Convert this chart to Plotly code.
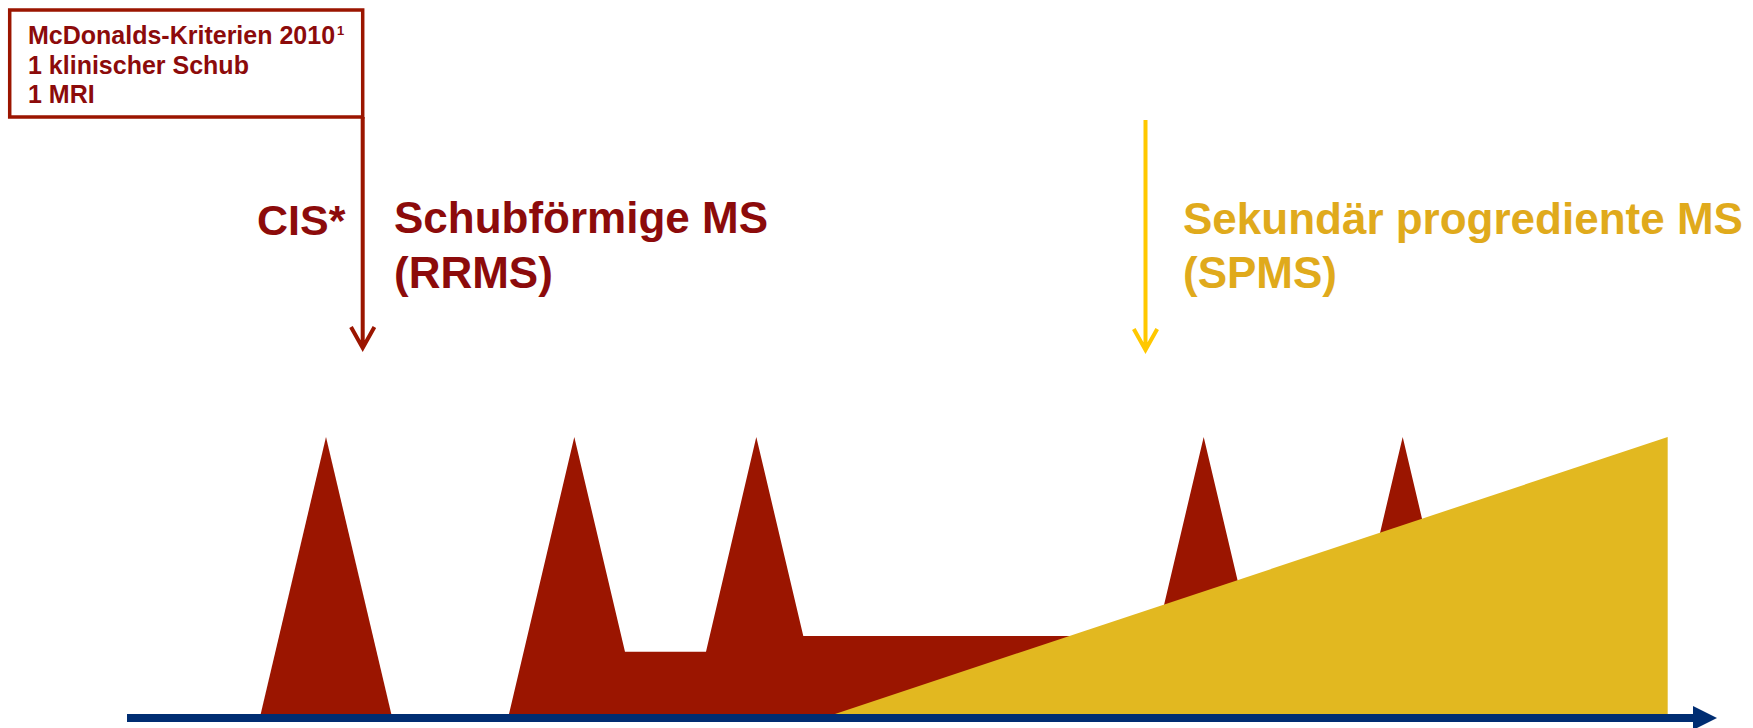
import plotly.graph_objects as go

W, H = 1753, 728
BASE_PX = 714          # pixel row of the time axis (top edge)
PX_PER_UNIT = 2.77     # pixels per unit of disability

# CIS: first clinical attack
cis_t = [260.7, 326.0, 391.3]
cis_level = [0, 100, 0]

# relapsing-remitting course with incomplete remission
rrms_t = [509.0, 574.3, 625.0, 706.0, 756.3, 803.3, 1156.7, 1203.7,
          1250.7, 1355.7, 1402.7, 1449.7, 1640.0, 1640.0]
rrms_level = [0, 100, 22.5, 22.5, 100, 28.2, 28.2, 100,
              28.2, 28.2, 100, 28.2, 28.2, 0]

# secondary progressive course
spms_t = [835.0, 1667.7, 1667.7]
spms_level = [0, 100, 0]

# time axis
axis_t = [127.0, 1693.0]
axis_tip_t = 1717.0

RED = "#9b1500"
RED_TEXT = "#8c0b0b"
GOLD = "#e2b820"
GOLD_TEXT = "#e0aa1c"
ARROW_GOLD = "#ffc800"
NAVY = "#002d72"
FONT = "Liberation Sans, Arial, Helvetica, sans-serif"


def py2y(py):
    return (BASE_PX - py) / PX_PER_UNIT


def px2p(px):
    return px / W


def py2p(py):
    return 1 - py / H


fig = go.Figure()

fig.add_trace(go.Scatter(x=cis_t, y=cis_level, fill="toself", fillcolor=RED,
                         mode="lines", line=dict(width=0, color=RED),
                         hoverinfo="skip", showlegend=False))
fig.add_trace(go.Scatter(x=rrms_t, y=rrms_level, fill="toself", fillcolor=RED,
                         mode="lines", line=dict(width=0, color=RED),
                         hoverinfo="skip", showlegend=False))
fig.add_trace(go.Scatter(x=spms_t, y=spms_level, fill="toself", fillcolor=GOLD,
                         mode="lines", line=dict(width=0, color=GOLD),
                         hoverinfo="skip", showlegend=False))

# time axis with arrow head
axis_y = py2y(718)
fig.add_trace(go.Scatter(x=axis_t, y=[axis_y, axis_y], mode="lines",
                         line=dict(width=8, color=NAVY),
                         hoverinfo="skip", showlegend=False))
head = 12 / PX_PER_UNIT
fig.add_trace(go.Scatter(x=[axis_t[1], axis_tip_t, axis_t[1], axis_t[1]],
                         y=[axis_y + head, axis_y, axis_y - head, axis_y + head],
                         fill="toself", fillcolor=NAVY, mode="lines",
                         line=dict(width=0, color=NAVY),
                         hoverinfo="skip", showlegend=False))

shapes = []
# criteria box
shapes.append(dict(type="rect", xref="x", yref="y",
                   x0=9.7, x1=362.7, y0=py2y(10), y1=py2y(117),
                   line=dict(color=RED, width=3.5), fillcolor="rgba(0,0,0,0)"))


def down_arrow(x, top_px, tip_px, color, width):
    arm_dx, arm_dy = 11.7, 21
    path = (f"M {x},{py2y(top_px)} L {x},{py2y(tip_px)} "
            f"M {x - arm_dx},{py2y(tip_px - arm_dy)} L {x},{py2y(tip_px)} "
            f"L {x + arm_dx},{py2y(tip_px - arm_dy)}")
    return dict(type="path", xref="x", yref="y", path=path,
                line=dict(color=color, width=width))


shapes.append(down_arrow(362.7, 117, 348, RED, 4))
shapes.append(down_arrow(1145.5, 120, 350, ARROW_GOLD, 4))

annotations = []


def label(text, px, py, size, color, anchor="left"):
    annotations.append(dict(
        text=text, x=px2p(px), y=py2p(py), xref="paper", yref="paper",
        xanchor=anchor, yanchor="middle", showarrow=False,
        font=dict(family=FONT, size=size, color=color, weight="bold")))


label("McDonalds-Kriterien 2010", 26, 35, 25, RED_TEXT)
label("1", 334.5, 31, 13, RED_TEXT)           # footnote marker
label("1 klinischer Schub", 26, 64.5, 25, RED_TEXT)
label("1 MRI", 26, 94, 25, RED_TEXT)
label("CIS*", 348, 219.5, 43, RED_TEXT, anchor="right")
label("Schubförmige MS", 392, 217, 44, RED_TEXT)
label("(RRMS)", 392, 272, 44, RED_TEXT)
label("Sekundär progrediente MS", 1181, 218, 44, GOLD_TEXT)
label("(SPMS)", 1181, 272, 44, GOLD_TEXT)

fig.update_layout(
    width=W, height=H,
    margin=dict(l=0, r=0, t=0, b=0, pad=0),
    paper_bgcolor="white", plot_bgcolor="white",
    xaxis=dict(range=[0, W], visible=False, fixedrange=True),
    yaxis=dict(range=[py2y(H), py2y(0)], visible=False, fixedrange=True),
    shapes=shapes, annotations=annotations,
    showlegend=False,
)

fig.write_html("out.html")
